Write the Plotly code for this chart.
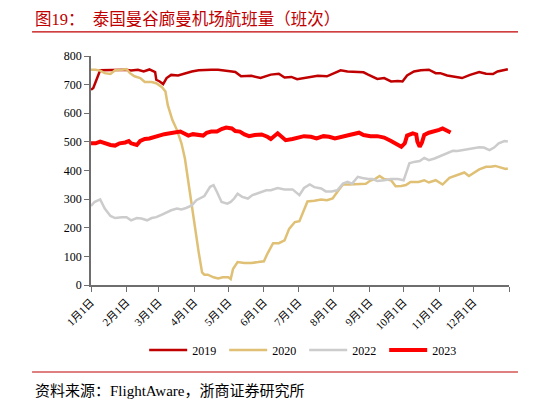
import plotly.graph_objects as go

# day of year (0 = 1月1日) and flights per day
days_2019 = [0, 2, 8, 12, 18, 24, 30, 35, 41, 46, 51, 56, 57, 60, 63, 66, 70, 76, 82, 88, 94, 99, 105, 111, 117,
             123, 126, 131, 140, 148, 157, 164, 169, 175, 180, 189, 198, 206, 212, 218, 224, 232, 238, 242, 247,
             250, 256, 262, 268, 272, 276, 282, 288, 295, 301, 305, 311, 317, 324, 331, 339, 345, 351, 355, 361, 364]
vals_2019 = [682, 688, 750, 750, 752, 750, 752, 749, 752, 746, 753, 744, 717, 711, 702, 723, 734, 732, 740, 746, 750,
             752, 752, 752, 750, 746, 744, 729, 731, 723, 735, 738, 725, 727, 719, 725, 731, 729, 740, 750, 746, 744,
             743, 735, 727, 720, 723, 711, 713, 711, 732, 746, 750, 752, 740, 740, 732, 727, 723, 734, 744, 738, 737,
             746, 752, 754]

days_2020 = [0, 4, 8, 12, 17, 21, 27, 31, 34, 38, 43, 47, 53, 57, 62, 65, 67, 71, 75, 79, 82, 85, 88, 91, 94, 97, 99,
             102, 107, 111, 115, 120, 122, 124, 128, 134, 140, 146, 151, 154, 159, 164, 169, 173, 178, 182, 185, 189,
             195, 201, 206, 211, 215, 220, 225, 231, 235, 240, 244, 248, 252, 256, 262, 266, 271, 275, 279, 286, 291,
             295, 301, 307, 313, 317, 323, 326, 330, 335, 339, 345, 349, 353, 358, 362, 364]
vals_2020 = [752, 752, 749, 740, 737, 750, 752, 754, 740, 729, 723, 709, 709, 705, 691, 676, 629, 577, 542, 495, 442,
             360, 278, 185, 115, 44, 36, 36, 27, 23, 27, 27, 21, 56, 80, 77, 77, 80, 83, 109, 146, 146, 156, 196, 220,
             223, 255, 292, 294, 299, 296, 302, 325, 351, 351, 352, 354, 354, 365, 370, 381, 370, 366, 345, 346, 349,
             360, 360, 366, 358, 366, 351, 374, 380, 389, 393, 381, 395, 404, 413, 413, 416, 411, 405, 407]

days_2022 = [0, 3, 8, 12, 17, 21, 27, 31, 35, 40, 44, 49, 53, 57, 62, 66, 70, 75, 79, 83, 88, 92, 97, 99, 104, 107,
             110, 114, 119, 122, 125, 128, 132, 137, 141, 148, 153, 157, 163, 169, 176, 182, 186, 191, 195, 201, 205,
             210, 215, 220, 224, 228, 233, 237, 242, 246, 250, 256, 262, 268, 273, 275, 278, 282, 287, 291, 295, 300,
             305, 311, 316, 320, 324, 330, 335, 339, 343, 348, 352, 356, 361, 364]
vals_2022 = [276, 290, 299, 267, 241, 234, 237, 237, 226, 234, 232, 226, 234, 237, 246, 255, 261, 267, 264, 269, 278,
             296, 308, 311, 343, 349, 325, 290, 284, 290, 302, 319, 308, 302, 314, 325, 331, 331, 339, 334, 334, 314,
             339, 351, 342, 337, 327, 327, 331, 354, 360, 354, 378, 374, 370, 370, 363, 366, 370, 370, 366, 389, 425,
             430, 433, 444, 436, 442, 451, 459, 469, 468, 471, 473, 477, 481, 480, 471, 480, 495, 503, 501]

days_2023 = [0, 4, 8, 12, 17, 21, 25, 30, 33, 35, 40, 43, 47, 51, 56, 60, 64, 69, 73, 78, 81, 85, 89, 94, 98, 101,
             105, 110, 114, 118, 123, 126, 130, 134, 138, 143, 149, 154, 157, 163, 167, 170, 176, 182, 186, 192, 197,
             203, 208, 213, 219, 224, 229, 234, 238, 244, 250, 256, 262, 268, 271, 274, 276, 281, 284, 285, 287, 289,
             291, 295, 300, 304, 307, 310, 314]
vals_2023 = [495, 495, 501, 495, 489, 487, 495, 498, 503, 495, 489, 503, 510, 512, 518, 520, 527, 530, 533, 536, 530,
             522, 527, 524, 522, 532, 536, 536, 545, 550, 547, 538, 536, 526, 520, 524, 526, 518, 510, 530, 518, 506,
             510, 515, 520, 518, 512, 520, 518, 512, 518, 524, 527, 532, 524, 520, 520, 515, 503, 489, 483, 495, 522,
             530, 526, 501, 483, 498, 524, 532, 536, 542, 547, 542, 533]

month_days = [0, 31, 59, 90, 120, 151, 181, 212, 243, 273, 304, 334, 365]
month_labels = ['1月1日', '2月1日', '3月1日', '4月1日', '5月1日', '6月1日', '7月1日', '8月1日',
                '9月1日', '10月1日', '11月1日', '12月1日', '']

serif = 'Liberation Serif, Noto Sans CJK SC'

fig = go.Figure()
fig.add_trace(go.Scatter(name='2019', x=days_2019, y=vals_2019, mode='lines',
                         line=dict(color='#C00000', width=2.5)))
fig.add_trace(go.Scatter(name='2020', x=days_2020, y=vals_2020, mode='lines',
                         line=dict(color='#DFC075', width=2.5)))
fig.add_trace(go.Scatter(name='2022', x=days_2022, y=vals_2022, mode='lines',
                         line=dict(color='#CCCCCC', width=2.5)))
fig.add_trace(go.Scatter(name='2023', x=days_2023, y=vals_2023, mode='lines',
                         line=dict(color='#FF0000', width=4)))

fig.update_xaxes(range=[0, 365], tickvals=month_days, ticktext=month_labels, tickangle=-45,
                 showline=True, linecolor='#6E6E6E', linewidth=1.5, ticks='outside', ticklen=5,
                 tickcolor='#6E6E6E', showgrid=False, zeroline=False,
                 tickfont=dict(family=serif, size=11, color='#000000'))
fig.update_yaxes(range=[0, 800], dtick=100, showline=True, linecolor='#6E6E6E', linewidth=1.5,
                 ticks='outside', ticklen=5, tickcolor='#6E6E6E', showgrid=False, zeroline=False,
                 tickfont=dict(family=serif, size=12, color='#000000'))

# page body has an 8px margin, so the figure is 8px smaller than the window
fig.update_layout(
    width=540, height=397,
    margin=dict(l=83, r=39, t=48, b=120),
    plot_bgcolor='white', paper_bgcolor='white',
    showlegend=True,
    legend=dict(orientation='h', x=0.51, xanchor='center', y=-0.284, yanchor='middle',
                font=dict(family=serif, size=12, color='#000000'),
                entrywidth=27, entrywidthmode='pixels', itemwidth=38),
    font=dict(family=serif),
)

# title, rules and source note around the chart
fig.add_annotation(text='图19：  泰国曼谷廊曼机场航班量（班次）', xref='paper', yref='paper',
                   x=-0.139, y=1.161, xanchor='left', yanchor='middle', showarrow=False,
                   font=dict(family=serif, size=16.5, color='#C00000'))
fig.add_shape(type='line', xref='paper', yref='paper', x0=-0.141, x1=1.0215, y0=1.105, y1=1.105,
              line=dict(color='#C00000', width=1.2))
fig.add_shape(type='line', xref='paper', yref='paper', x0=-0.141, x1=1.0215, y0=-0.380, y1=-0.380,
              line=dict(color='#C00000', width=1.2))
fig.add_annotation(text='资料来源：FlightAware，浙商证券研究所', xref='paper', yref='paper',
                   x=-0.139, y=-0.463, xanchor='left', yanchor='middle', showarrow=False,
                   font=dict(family=serif, size=15, color='#000000'))

fig.write_html('out.html')
